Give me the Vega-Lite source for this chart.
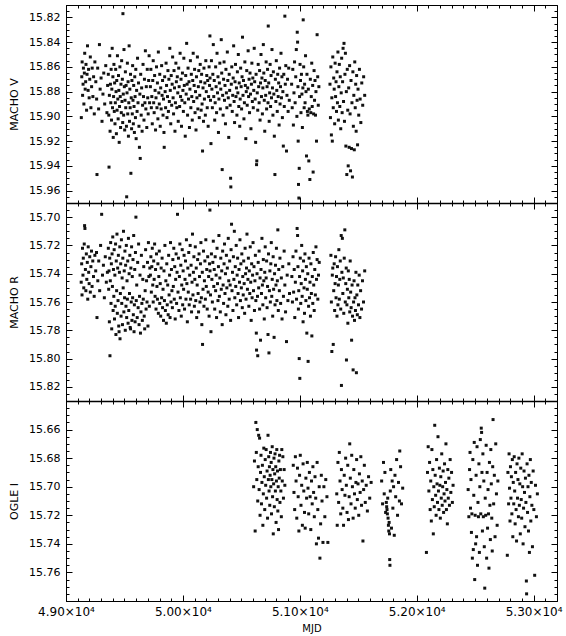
{
"$schema": "https://vega.github.io/schema/vega-lite/v6.json",
"width": 491,
"height": 596,
"autosize": {"type": "none"},
"padding": {"left": 66, "top": 5, "right": 9, "bottom": 35},
"config": {
  "view": {"stroke": "#000", "strokeWidth": 1},
  "axis": {"grid": false, "domain": false, "labelFont": "DejaVu Sans", "labelFontSize": 11, "labelColor": "#000", "titleFont": "DejaVu Sans", "titleFontSize": 11, "titleFontWeight": "normal", "titleColor": "#000", "tickColor": "#000", "tickWidth": 1, "domainColor": "#000", "domainWidth": 1.5, "labelFlush": false, "labelOverlap": false, "labelBound": false}
},
"datasets": {
"V": [
{"d":49131,"m":15.901},{"d":49135,"m":15.868},{"d":49138,"m":15.856},{"d":49142,"m":15.883},{"d":49146,"m":15.874},{"d":49149,"m":15.861},{"d":49153,"m":15.890},{"d":49157,"m":15.865},{"d":49160,"m":15.849},{"d":49164,"m":15.878},{"d":49168,"m":15.872},{"d":49171,"m":15.858},{"d":49176,"m":15.895},{"d":49180,"m":15.866},{"d":49184,"m":15.843},{"d":49189,"m":15.879},{"d":49193,"m":15.862},{"d":49198,"m":15.885},{"d":49203,"m":15.870},{"d":49208,"m":15.852},{"d":49213,"m":15.893},{"d":49219,"m":15.876},{"d":49224,"m":15.861},{"d":49230,"m":15.884},{"d":49236,"m":15.868},{"d":49242,"m":15.898},{"d":49247,"m":15.856},
{"d":49255,"m":15.872},{"d":49262,"m":15.886},{"d":49265,"m":15.947},{"d":49271,"m":15.861},{"d":49279,"m":15.894},{"d":49286,"m":15.842},{"d":49292,"m":15.878},{"d":49300,"m":15.869},{"d":49308,"m":15.904},{"d":49316,"m":15.882},{"d":49323,"m":15.865},{"d":49331,"m":15.890},{"d":49340,"m":15.859},{"d":49350,"m":15.897},{"d":49356,"m":15.875},
{"d":49362,"m":15.866},{"d":49366,"m":15.899},{"d":49368,"m":15.941},{"d":49371,"m":15.883},{"d":49374,"m":15.851},{"d":49377,"m":15.912},{"d":49380,"m":15.874},{"d":49383,"m":15.889},{"d":49386,"m":15.862},{"d":49389,"m":15.903},{"d":49392,"m":15.878},{"d":49395,"m":15.845},{"d":49398,"m":15.893},{"d":49401,"m":15.868},{"d":49404,"m":15.917},{"d":49407,"m":15.884},{"d":49410,"m":15.858},{"d":49413,"m":15.896},{"d":49416,"m":15.873},{"d":49419,"m":15.906},{"d":49422,"m":15.889},{"d":49425,"m":15.862},{"d":49428,"m":15.880},{"d":49431,"m":15.914},{"d":49434,"m":15.871},{"d":49437,"m":15.895},{"d":49440,"m":15.851},{"d":49443,"m":15.886},{"d":49446,"m":15.902},{"d":49449,"m":15.867},{"d":49452,"m":15.879},{"d":49455,"m":15.921},{"d":49458,"m":15.892},{"d":49461,"m":15.860},{"d":49464,"m":15.884},{"d":49467,"m":15.909},{"d":49470,"m":15.874},{"d":49473,"m":15.897},{"d":49476,"m":15.855},{"d":49479,"m":15.888},{"d":49482,"m":15.870},{"d":49485,"m":15.905},{"d":49487,"m":15.817},{"d":49490,"m":15.882},{"d":49493,"m":15.899},{"d":49496,"m":15.846},{"d":49499,"m":15.876},{"d":49502,"m":15.911},{"d":49505,"m":15.887},{"d":49508,"m":15.864},{"d":49511,"m":15.893},{"d":49514,"m":15.875},{"d":49517,"m":15.908},{"d":49519,"m":15.965},{"d":49522,"m":15.881},{"d":49525,"m":15.857},{"d":49528,"m":15.898},{"d":49531,"m":15.872},{"d":49534,"m":15.916},{"d":49537,"m":15.889},{"d":49540,"m":15.843},{"d":49543,"m":15.904},{"d":49546,"m":15.878},{"d":49549,"m":15.893},{"d":49552,"m":15.866},{"d":49555,"m":15.946},{"d":49558,"m":15.885},{"d":49561,"m":15.910},{"d":49564,"m":15.871},{"d":49567,"m":15.898},{"d":49570,"m":15.859},{"d":49573,"m":15.887},{"d":49576,"m":15.906},{"d":49579,"m":15.875},{"d":49582,"m":15.892},{"d":49585,"m":15.913},{"d":49588,"m":15.868},{"d":49591,"m":15.884},{"d":49594,"m":15.901},{"d":49597,"m":15.862},{"d":49600,"m":15.918},{"d":49604,"m":15.879},{"d":49608,"m":15.896},{"d":49612,"m":15.853},{"d":49616,"m":15.889},{"d":49620,"m":15.873},{"d":49624,"m":15.908},{"d":49628,"m":15.925},{"d":49632,"m":15.882},{"d":49635,"m":15.934},{"d":49639,"m":15.866},{"d":49643,"m":15.899},{"d":49647,"m":15.877},{"d":49651,"m":15.912},{"d":49655,"m":15.891},{"d":49659,"m":15.858},{"d":49663,"m":15.884},{"d":49667,"m":15.903},{"d":49671,"m":15.870},{"d":49675,"m":15.889},{"d":49679,"m":15.847},{"d":49683,"m":15.894},{"d":49687,"m":15.876},{"d":49691,"m":15.909},{"d":49695,"m":15.862},{"d":49699,"m":15.885},{"d":49703,"m":15.898},{"d":49707,"m":15.871},{"d":49711,"m":15.851},{"d":49715,"m":15.889},
{"d":49722,"m":15.876},{"d":49726,"m":15.862},{"d":49730,"m":15.893},{"d":49734,"m":15.884},{"d":49738,"m":15.906},{"d":49742,"m":15.871},{"d":49746,"m":15.855},{"d":49750,"m":15.889},{"d":49754,"m":15.897},{"d":49758,"m":15.867},{"d":49762,"m":15.879},{"d":49766,"m":15.911},{"d":49770,"m":15.885},{"d":49774,"m":15.860},{"d":49778,"m":15.893},{"d":49782,"m":15.873},{"d":49786,"m":15.902},{"d":49790,"m":15.848},{"d":49794,"m":15.881},{"d":49798,"m":15.890},{"d":49802,"m":15.866},{"d":49806,"m":15.908},{"d":49810,"m":15.877},{"d":49814,"m":15.894},{"d":49818,"m":15.859},{"d":49822,"m":15.883},{"d":49826,"m":15.871},{"d":49830,"m":15.899},{"d":49834,"m":15.886},{"d":49838,"m":15.913},{"d":49840,"m":15.925},{"d":49844,"m":15.868},{"d":49848,"m":15.880},{"d":49852,"m":15.893},{"d":49856,"m":15.857},{"d":49860,"m":15.875},{"d":49864,"m":15.901},{"d":49868,"m":15.884},{"d":49872,"m":15.863},{"d":49876,"m":15.896},{"d":49880,"m":15.870},{"d":49884,"m":15.888},{"d":49888,"m":15.845},{"d":49892,"m":15.879},{"d":49896,"m":15.906},{"d":49900,"m":15.867},{"d":49904,"m":15.891},{"d":49908,"m":15.874},{"d":49912,"m":15.852},{"d":49916,"m":15.885},{"d":49920,"m":15.898},{"d":49924,"m":15.863},{"d":49928,"m":15.877},{"d":49932,"m":15.912},{"d":49936,"m":15.889},{"d":49940,"m":15.857},{"d":49944,"m":15.872},{"d":49948,"m":15.893},{"d":49952,"m":15.868},{"d":49956,"m":15.881},{"d":49960,"m":15.904},{"d":49964,"m":15.861},{"d":49968,"m":15.876},{"d":49972,"m":15.892},{"d":49976,"m":15.849},{"d":49980,"m":15.884},{"d":49984,"m":15.870},{"d":49988,"m":15.908},{"d":49992,"m":15.887},{"d":49996,"m":15.865},{"d":50000,"m":15.879},{"d":50004,"m":15.896},{"d":50008,"m":15.853},{"d":50012,"m":15.875},{"d":50016,"m":15.889},{"d":50020,"m":15.916},{"d":50024,"m":15.867},{"d":50028,"m":15.882},{"d":50032,"m":15.841},{"d":50036,"m":15.874},{"d":50040,"m":15.899},{"d":50044,"m":15.861},{"d":50048,"m":15.886},{"d":50052,"m":15.872},{"d":50056,"m":15.909},{"d":50060,"m":15.878},{"d":50064,"m":15.855},{"d":50068,"m":15.893},{"d":50072,"m":15.866},{"d":50076,"m":15.884},{"d":50080,"m":15.903},{"d":50084,"m":15.871},{"d":50088,"m":15.849},{"d":50092,"m":15.888},{"d":50096,"m":15.875},{"d":50100,"m":15.862},{"d":50104,"m":15.897},{"d":50108,"m":15.880},{"d":50112,"m":15.911},{"d":50116,"m":15.868},{"d":50120,"m":15.885},{"d":50124,"m":15.852},{"d":50128,"m":15.894},{"d":50132,"m":15.876},{"d":50136,"m":15.863},{"d":50140,"m":15.901},{"d":50144,"m":15.883},{"d":50148,"m":15.858},{"d":50152,"m":15.872},{"d":50156,"m":15.895},{"d":50160,"m":15.866},{"d":50164,"m":15.890},{"d":50168,"m":15.928},{"d":50172,"m":15.877},{"d":50176,"m":15.904},{"d":50180,"m":15.861},{"d":50184,"m":15.886},{"d":50188,"m":15.873},{"d":50192,"m":15.899},{"d":50196,"m":15.855},{"d":50200,"m":15.880},{"d":50204,"m":15.867},{"d":50208,"m":15.893},{"d":50212,"m":15.871},{"d":50216,"m":15.908},{"d":50220,"m":15.884},{"d":50224,"m":15.860},{"d":50228,"m":15.875},{"d":50231,"m":15.835},
{"d":50232,"m":15.869},{"d":50236,"m":15.887},{"d":50240,"m":15.922},{"d":50244,"m":15.855},{"d":50248,"m":15.878},{"d":50252,"m":15.893},{"d":50256,"m":15.866},{"d":50260,"m":15.842},{"d":50264,"m":15.884},{"d":50268,"m":15.871},{"d":50272,"m":15.903},{"d":50276,"m":15.889},{"d":50280,"m":15.860},{"d":50284,"m":15.876},{"d":50288,"m":15.897},{"d":50292,"m":15.849},{"d":50296,"m":15.881},{"d":50300,"m":15.868},{"d":50304,"m":15.913},{"d":50308,"m":15.886},{"d":50312,"m":15.873},{"d":50316,"m":15.857},{"d":50320,"m":15.894},{"d":50324,"m":15.878},{"d":50328,"m":15.838},{"d":50332,"m":15.865},{"d":50336,"m":15.943},{"d":50340,"m":15.883},{"d":50344,"m":15.899},{"d":50348,"m":15.870},{"d":50352,"m":15.856},{"d":50356,"m":15.887},{"d":50360,"m":15.875},{"d":50364,"m":15.906},{"d":50368,"m":15.862},{"d":50372,"m":15.881},{"d":50376,"m":15.893},{"d":50380,"m":15.848},{"d":50384,"m":15.871},{"d":50388,"m":15.885},{"d":50392,"m":15.917},{"d":50396,"m":15.866},{"d":50400,"m":15.879},{"d":50404,"m":15.891},{"d":50408,"m":15.950},{"d":50410,"m":15.957},{"d":50414,"m":15.874},{"d":50418,"m":15.860},{"d":50422,"m":15.896},{"d":50426,"m":15.883},{"d":50430,"m":15.869},{"d":50434,"m":15.843},{"d":50438,"m":15.888},{"d":50442,"m":15.905},{"d":50446,"m":15.872},{"d":50450,"m":15.858},{"d":50454,"m":15.884},{"d":50458,"m":15.877},{"d":50462,"m":15.899},{"d":50466,"m":15.864},{"d":50470,"m":15.881},{"d":50474,"m":15.850},{"d":50478,"m":15.892},{"d":50482,"m":15.873},{"d":50486,"m":15.908},{"d":50490,"m":15.886},{"d":50494,"m":15.861},{"d":50498,"m":15.876},{"d":50502,"m":15.894},{"d":50506,"m":15.868},{"d":50510,"m":15.836},{"d":50514,"m":15.883},{"d":50518,"m":15.871},{"d":50522,"m":15.902},{"d":50526,"m":15.889},{"d":50530,"m":15.856},{"d":50534,"m":15.875},{"d":50538,"m":15.918},{"d":50542,"m":15.880},{"d":50546,"m":15.863},{"d":50550,"m":15.891},{"d":50554,"m":15.877},{"d":50558,"m":15.847},{"d":50562,"m":15.884},{"d":50566,"m":15.870},{"d":50570,"m":15.897},{"d":50574,"m":15.865},{"d":50578,"m":15.882},{"d":50582,"m":15.910},{"d":50586,"m":15.874},{"d":50590,"m":15.857},{"d":50594,"m":15.888},{"d":50598,"m":15.869},{"d":50602,"m":15.893},{"d":50606,"m":15.879},{"d":50610,"m":15.845},{"d":50614,"m":15.872},{"d":50618,"m":15.886},{"d":50622,"m":15.921},{"d":50626,"m":15.866},{"d":50630,"m":15.939},{"d":50632,"m":15.936},{"d":50636,"m":15.881},{"d":50640,"m":15.895},{"d":50644,"m":15.858},{"d":50648,"m":15.876},{"d":50652,"m":15.889},{"d":50656,"m":15.863},{"d":50660,"m":15.903},{"d":50664,"m":15.873},{"d":50668,"m":15.850},{"d":50672,"m":15.884},{"d":50676,"m":15.869},{"d":50680,"m":15.898},{"d":50684,"m":15.877},{"d":50688,"m":15.842},{"d":50692,"m":15.865},{"d":50696,"m":15.887},{"d":50700,"m":15.912},{"d":50704,"m":15.871},{"d":50708,"m":15.883},{"d":50712,"m":15.856},{"d":50716,"m":15.894},{"d":50720,"m":15.876},{"d":50724,"m":15.862},{"d":50728,"m":15.889},{"d":50730,"m":15.827},{"d":50734,"m":15.873},{"d":50738,"m":15.904},{"d":50742,"m":15.881},{"d":50746,"m":15.858},{"d":50750,"m":15.892},{"d":50754,"m":15.867},{"d":50758,"m":15.885},{"d":50762,"m":15.846},{"d":50766,"m":15.877},{"d":50770,"m":15.899},{"d":50774,"m":15.864},{"d":50778,"m":15.882},{"d":50782,"m":15.916},{"d":50787,"m":15.947},{"d":50791,"m":15.870},{"d":50795,"m":15.888},{"d":50799,"m":15.855},{"d":50803,"m":15.879},{"d":50807,"m":15.896},{"d":50811,"m":15.866},{"d":50815,"m":15.884},{"d":50819,"m":15.873},{"d":50823,"m":15.907},{"d":50827,"m":15.861},{"d":50831,"m":15.890},{"d":50835,"m":15.876},{"d":50839,"m":15.849},{"d":50843,"m":15.885},{"d":50847,"m":15.868},{"d":50851,"m":15.901},{"d":50855,"m":15.880},{"d":50859,"m":15.924},{"d":50863,"m":15.866},{"d":50867,"m":15.892},{"d":50872,"m":15.819},{"d":50876,"m":15.874},{"d":50880,"m":15.859},{"d":50886,"m":15.928},{"d":50890,"m":15.883},{"d":50895,"m":15.870},{"d":50900,"m":15.896},{"d":50905,"m":15.861},{"d":50910,"m":15.887},
{"d":50930,"m":15.874},{"d":50935,"m":15.893},{"d":50940,"m":15.862},{"d":50945,"m":15.907},{"d":50950,"m":15.881},{"d":50955,"m":15.856},{"d":50960,"m":15.889},{"d":50965,"m":15.868},{"d":50970,"m":15.846},{"d":50975,"m":15.900},{"d":50978,"m":15.832},{"d":50981,"m":15.840},{"d":50984,"m":15.876},{"d":50986,"m":15.920},{"d":50989,"m":15.955},{"d":50992,"m":15.966},{"d":50995,"m":15.942},{"d":50998,"m":15.884},{"d":51002,"m":15.858},{"d":51006,"m":15.871},{"d":51010,"m":15.897},{"d":51014,"m":15.866},{"d":51018,"m":15.882},{"d":51022,"m":15.909},{"d":51026,"m":15.877},{"d":51029,"m":15.822},{"d":51033,"m":15.860},{"d":51037,"m":15.893},{"d":51041,"m":15.874},{"d":51045,"m":15.889},{"d":51049,"m":15.851},{"d":51053,"m":15.880},{"d":51057,"m":15.932},{"d":51061,"m":15.866},{"d":51065,"m":15.896},{"d":51069,"m":15.899},{"d":51073,"m":15.878},{"d":51077,"m":15.936},{"d":51081,"m":15.894},{"d":51086,"m":15.951},{"d":51090,"m":15.870},{"d":51094,"m":15.897},{"d":51098,"m":15.884},{"d":51102,"m":15.857},{"d":51106,"m":15.892},{"d":51110,"m":15.875},{"d":51114,"m":15.945},{"d":51118,"m":15.898},{"d":51122,"m":15.863},{"d":51126,"m":15.887},{"d":51130,"m":15.871},{"d":51134,"m":15.899},{"d":51138,"m":15.880},{"d":51143,"m":15.920},{"d":51148,"m":15.834},{"d":51153,"m":15.868},{"d":51158,"m":15.891},{"d":51163,"m":15.876},
{"d":51258,"m":15.874},{"d":51262,"m":15.901},{"d":51266,"m":15.860},{"d":51270,"m":15.915},{"d":51274,"m":15.885},{"d":51278,"m":15.920},{"d":51282,"m":15.852},{"d":51286,"m":15.893},{"d":51290,"m":15.869},{"d":51294,"m":15.878},{"d":51298,"m":15.906},{"d":51302,"m":15.857},{"d":51306,"m":15.884},{"d":51310,"m":15.872},{"d":51314,"m":15.896},{"d":51318,"m":15.864},{"d":51322,"m":15.889},{"d":51326,"m":15.848},{"d":51330,"m":15.903},{"d":51334,"m":15.876},{"d":51338,"m":15.858},{"d":51342,"m":15.892},{"d":51346,"m":15.868},{"d":51350,"m":15.910},{"d":51354,"m":15.881},{"d":51358,"m":15.853},{"d":51362,"m":15.897},{"d":51366,"m":15.872},{"d":51370,"m":15.845},{"d":51374,"m":15.888},{"d":51378,"m":15.841},{"d":51382,"m":15.904},{"d":51386,"m":15.866},{"d":51390,"m":15.849},{"d":51394,"m":15.924},{"d":51398,"m":15.880},{"d":51402,"m":15.947},{"d":51406,"m":15.862},{"d":51410,"m":15.895},{"d":51414,"m":15.940},{"d":51418,"m":15.877},{"d":51422,"m":15.925},{"d":51426,"m":15.859},{"d":51430,"m":15.898},{"d":51434,"m":15.944},{"d":51438,"m":15.871},{"d":51442,"m":15.926},{"d":51446,"m":15.889},{"d":51450,"m":15.949},{"d":51454,"m":15.864},{"d":51458,"m":15.908},{"d":51462,"m":15.883},{"d":51466,"m":15.927},{"d":51470,"m":15.856},{"d":51474,"m":15.893},{"d":51478,"m":15.874},{"d":51482,"m":15.912},{"d":51486,"m":15.867},{"d":51490,"m":15.887},{"d":51494,"m":15.923},{"d":51498,"m":15.878},{"d":51504,"m":15.899},{"d":51510,"m":15.862},{"d":51516,"m":15.886},{"d":51522,"m":15.905},{"d":51530,"m":15.873},{"d":51538,"m":15.891},{"d":51546,"m":15.868},{"d":51555,"m":15.883}
],
"R": [
{"d":49130,"m":15.746},{"d":49134,"m":15.733},{"d":49137,"m":15.755},{"d":49141,"m":15.722},{"d":49145,"m":15.741},{"d":49148,"m":15.729},{"d":49152,"m":15.750},{"d":49156,"m":15.719},{"d":49159,"m":15.706},{"d":49162,"m":15.708},{"d":49166,"m":15.737},{"d":49170,"m":15.752},{"d":49174,"m":15.726},{"d":49178,"m":15.744},{"d":49182,"m":15.732},{"d":49186,"m":15.758},{"d":49190,"m":15.721},{"d":49194,"m":15.739},{"d":49198,"m":15.747},{"d":49203,"m":15.728},{"d":49208,"m":15.753},{"d":49213,"m":15.735},{"d":49218,"m":15.724},{"d":49223,"m":15.749},{"d":49229,"m":15.731},{"d":49235,"m":15.742},{"d":49241,"m":15.756},{"d":49247,"m":15.727},
{"d":49254,"m":15.738},{"d":49261,"m":15.725},{"d":49265,"m":15.771},{"d":49272,"m":15.745},{"d":49280,"m":15.731},{"d":49288,"m":15.752},{"d":49296,"m":15.720},{"d":49305,"m":15.698},{"d":49312,"m":15.741},{"d":49320,"m":15.734},{"d":49328,"m":15.757},{"d":49336,"m":15.728},{"d":49345,"m":15.746},{"d":49354,"m":15.739},
{"d":49362,"m":15.722},{"d":49365,"m":15.751},{"d":49368,"m":15.738},{"d":49371,"m":15.774},{"d":49374,"m":15.729},{"d":49376,"m":15.798},{"d":49379,"m":15.745},{"d":49382,"m":15.718},{"d":49385,"m":15.761},{"d":49388,"m":15.733},{"d":49391,"m":15.779},{"d":49394,"m":15.726},{"d":49397,"m":15.749},{"d":49400,"m":15.714},{"d":49403,"m":15.766},{"d":49406,"m":15.737},{"d":49409,"m":15.756},{"d":49412,"m":15.723},{"d":49415,"m":15.772},{"d":49418,"m":15.741},{"d":49421,"m":15.763},{"d":49424,"m":15.719},{"d":49427,"m":15.783},{"d":49430,"m":15.731},{"d":49433,"m":15.752},{"d":49436,"m":15.712},{"d":49439,"m":15.768},{"d":49442,"m":15.736},{"d":49445,"m":15.759},{"d":49448,"m":15.727},{"d":49451,"m":15.777},{"d":49454,"m":15.781},{"d":49457,"m":15.739},{"d":49460,"m":15.721},{"d":49462,"m":15.786},{"d":49465,"m":15.754},{"d":49468,"m":15.733},{"d":49471,"m":15.770},{"d":49474,"m":15.716},{"d":49477,"m":15.761},{"d":49480,"m":15.743},{"d":49483,"m":15.776},{"d":49486,"m":15.729},{"d":49489,"m":15.750},{"d":49492,"m":15.710},{"d":49495,"m":15.767},{"d":49498,"m":15.738},{"d":49501,"m":15.757},{"d":49504,"m":15.724},{"d":49507,"m":15.780},{"d":49510,"m":15.734},{"d":49513,"m":15.763},{"d":49516,"m":15.720},{"d":49519,"m":15.771},{"d":49522,"m":15.745},{"d":49525,"m":15.758},{"d":49528,"m":15.731},{"d":49531,"m":15.775},{"d":49534,"m":15.715},{"d":49537,"m":15.766},{"d":49540,"m":15.740},{"d":49543,"m":15.754},{"d":49546,"m":15.727},{"d":49549,"m":15.778},{"d":49552,"m":15.779},{"d":49555,"m":15.736},{"d":49558,"m":15.760},{"d":49561,"m":15.721},{"d":49564,"m":15.773},{"d":49567,"m":15.742},{"d":49570,"m":15.757},{"d":49573,"m":15.730},{"d":49576,"m":15.769},{"d":49579,"m":15.713},{"d":49582,"m":15.781},{"d":49585,"m":15.762},{"d":49588,"m":15.737},{"d":49591,"m":15.774},{"d":49594,"m":15.725},{"d":49598,"m":15.700},{"d":49601,"m":15.759},{"d":49605,"m":15.748},{"d":49609,"m":15.771},{"d":49613,"m":15.732},{"d":49617,"m":15.764},{"d":49621,"m":15.719},{"d":49625,"m":15.776},{"d":49629,"m":15.756},{"d":49633,"m":15.741},{"d":49637,"m":15.782},{"d":49641,"m":15.767},{"d":49645,"m":15.727},{"d":49649,"m":15.761},{"d":49653,"m":15.773},{"d":49657,"m":15.744},{"d":49661,"m":15.758},{"d":49665,"m":15.735},{"d":49669,"m":15.770},{"d":49673,"m":15.779},{"d":49677,"m":15.752},{"d":49681,"m":15.723},{"d":49685,"m":15.765},{"d":49689,"m":15.745},{"d":49693,"m":15.760},{"d":49697,"m":15.732},{"d":49701,"m":15.777},{"d":49705,"m":15.718},{"d":49709,"m":15.742},{"d":49713,"m":15.763},{"d":49717,"m":15.736},
{"d":49722,"m":15.741},{"d":49726,"m":15.728},{"d":49730,"m":15.753},{"d":49734,"m":15.735},{"d":49738,"m":15.722},{"d":49742,"m":15.748},{"d":49746,"m":15.760},{"d":49750,"m":15.731},{"d":49754,"m":15.744},{"d":49758,"m":15.719},{"d":49762,"m":15.756},{"d":49766,"m":15.737},{"d":49770,"m":15.765},{"d":49774,"m":15.726},{"d":49778,"m":15.749},{"d":49782,"m":15.758},{"d":49786,"m":15.733},{"d":49790,"m":15.768},{"d":49794,"m":15.742},{"d":49798,"m":15.724},{"d":49802,"m":15.761},{"d":49806,"m":15.747},{"d":49810,"m":15.770},{"d":49814,"m":15.736},{"d":49818,"m":15.757},{"d":49822,"m":15.729},{"d":49826,"m":15.764},{"d":49830,"m":15.751},{"d":49834,"m":15.773},{"d":49838,"m":15.738},{"d":49842,"m":15.759},{"d":49846,"m":15.720},{"d":49850,"m":15.766},{"d":49854,"m":15.745},{"d":49858,"m":15.775},{"d":49862,"m":15.733},{"d":49866,"m":15.762},{"d":49870,"m":15.748},{"d":49874,"m":15.769},{"d":49878,"m":15.727},{"d":49882,"m":15.755},{"d":49886,"m":15.741},{"d":49890,"m":15.771},{"d":49894,"m":15.718},{"d":49898,"m":15.760},{"d":49902,"m":15.737},{"d":49906,"m":15.752},{"d":49910,"m":15.764},{"d":49914,"m":15.730},{"d":49918,"m":15.749},{"d":49922,"m":15.722},{"d":49926,"m":15.758},{"d":49930,"m":15.735},{"d":49934,"m":15.772},{"d":49938,"m":15.744},{"d":49942,"m":15.726},{"d":49946,"m":15.761},{"d":49950,"m":15.739},{"d":49954,"m":15.698},{"d":49958,"m":15.753},{"d":49962,"m":15.729},{"d":49966,"m":15.766},{"d":49970,"m":15.742},{"d":49974,"m":15.719},{"d":49978,"m":15.757},{"d":49982,"m":15.734},{"d":49986,"m":15.770},{"d":49990,"m":15.748},{"d":49994,"m":15.723},{"d":49998,"m":15.762},{"d":50002,"m":15.738},{"d":50006,"m":15.751},{"d":50010,"m":15.727},{"d":50014,"m":15.765},{"d":50018,"m":15.744},{"d":50022,"m":15.731},{"d":50026,"m":15.758},{"d":50030,"m":15.716},{"d":50034,"m":15.747},{"d":50038,"m":15.774},{"d":50042,"m":15.736},{"d":50046,"m":15.753},{"d":50050,"m":15.725},{"d":50054,"m":15.762},{"d":50058,"m":15.741},{"d":50062,"m":15.720},{"d":50066,"m":15.758},{"d":50070,"m":15.734},{"d":50074,"m":15.767},{"d":50078,"m":15.746},{"d":50082,"m":15.712},{"d":50086,"m":15.755},{"d":50090,"m":15.739},{"d":50094,"m":15.728},{"d":50098,"m":15.763},{"d":50102,"m":15.744},{"d":50106,"m":15.721},{"d":50110,"m":15.759},{"d":50114,"m":15.736},{"d":50118,"m":15.771},{"d":50122,"m":15.748},{"d":50126,"m":15.730},{"d":50130,"m":15.754},{"d":50134,"m":15.767},{"d":50138,"m":15.726},{"d":50142,"m":15.742},{"d":50146,"m":15.760},{"d":50150,"m":15.733},{"d":50154,"m":15.718},{"d":50158,"m":15.757},{"d":50162,"m":15.776},{"d":50166,"m":15.739},{"d":50168,"m":15.790},{"d":50172,"m":15.751},{"d":50176,"m":15.724},{"d":50180,"m":15.763},{"d":50184,"m":15.745},{"d":50188,"m":15.731},{"d":50192,"m":15.758},{"d":50196,"m":15.716},{"d":50200,"m":15.749},{"d":50204,"m":15.737},{"d":50208,"m":15.765},{"d":50212,"m":15.728},{"d":50216,"m":15.753},{"d":50220,"m":15.742},{"d":50224,"m":15.770},{"d":50228,"m":15.733},{"d":50231,"m":15.695},
{"d":50232,"m":15.738},{"d":50236,"m":15.755},{"d":50240,"m":15.781},{"d":50244,"m":15.726},{"d":50248,"m":15.744},{"d":50252,"m":15.760},{"d":50256,"m":15.732},{"d":50260,"m":15.717},{"d":50264,"m":15.749},{"d":50268,"m":15.737},{"d":50272,"m":15.765},{"d":50276,"m":15.728},{"d":50280,"m":15.752},{"d":50284,"m":15.741},{"d":50288,"m":15.771},{"d":50292,"m":15.722},{"d":50296,"m":15.747},{"d":50300,"m":15.759},{"d":50304,"m":15.735},{"d":50308,"m":15.713},{"d":50312,"m":15.756},{"d":50316,"m":15.743},{"d":50320,"m":15.767},{"d":50324,"m":15.729},{"d":50328,"m":15.751},{"d":50332,"m":15.738},{"d":50336,"m":15.776},{"d":50340,"m":15.724},{"d":50344,"m":15.748},{"d":50348,"m":15.761},{"d":50352,"m":15.733},{"d":50356,"m":15.719},{"d":50360,"m":15.754},{"d":50364,"m":15.740},{"d":50368,"m":15.769},{"d":50372,"m":15.727},{"d":50376,"m":15.750},{"d":50380,"m":15.736},{"d":50384,"m":15.763},{"d":50388,"m":15.715},{"d":50392,"m":15.745},{"d":50396,"m":15.758},{"d":50400,"m":15.731},{"d":50404,"m":15.748},{"d":50408,"m":15.773},{"d":50412,"m":15.723},{"d":50416,"m":15.705},{"d":50420,"m":15.752},{"d":50424,"m":15.739},{"d":50428,"m":15.766},{"d":50432,"m":15.728},{"d":50436,"m":15.744},{"d":50440,"m":15.710},{"d":50444,"m":15.757},{"d":50448,"m":15.735},{"d":50452,"m":15.749},{"d":50456,"m":15.720},{"d":50460,"m":15.762},{"d":50464,"m":15.741},{"d":50468,"m":15.729},{"d":50472,"m":15.754},{"d":50476,"m":15.771},{"d":50480,"m":15.737},{"d":50484,"m":15.746},{"d":50488,"m":15.716},{"d":50492,"m":15.759},{"d":50496,"m":15.733},{"d":50500,"m":15.750},{"d":50504,"m":15.726},{"d":50508,"m":15.764},{"d":50512,"m":15.742},{"d":50516,"m":15.755},{"d":50520,"m":15.731},{"d":50524,"m":15.747},{"d":50528,"m":15.768},{"d":50532,"m":15.722},{"d":50536,"m":15.740},{"d":50540,"m":15.758},{"d":50544,"m":15.736},{"d":50548,"m":15.712},{"d":50552,"m":15.751},{"d":50556,"m":15.744},{"d":50560,"m":15.729},{"d":50564,"m":15.763},{"d":50568,"m":15.738},{"d":50572,"m":15.754},{"d":50576,"m":15.721},{"d":50580,"m":15.746},{"d":50584,"m":15.773},{"d":50588,"m":15.733},{"d":50592,"m":15.757},{"d":50596,"m":15.741},{"d":50600,"m":15.718},{"d":50604,"m":15.752},{"d":50608,"m":15.735},{"d":50612,"m":15.766},{"d":50616,"m":15.745},{"d":50620,"m":15.727},{"d":50624,"m":15.759},{"d":50628,"m":15.782},{"d":50630,"m":15.794},{"d":50634,"m":15.740},{"d":50638,"m":15.756},{"d":50640,"m":15.798},{"d":50644,"m":15.732},{"d":50648,"m":15.750},{"d":50652,"m":15.724},{"d":50656,"m":15.765},{"d":50660,"m":15.743},{"d":50664,"m":15.787},{"d":50668,"m":15.737},{"d":50672,"m":15.754},{"d":50676,"m":15.715},{"d":50680,"m":15.748},{"d":50684,"m":15.762},{"d":50688,"m":15.730},{"d":50692,"m":15.745},{"d":50696,"m":15.772},{"d":50700,"m":15.739},{"d":50704,"m":15.721},{"d":50708,"m":15.757},{"d":50712,"m":15.743},{"d":50716,"m":15.731},{"d":50720,"m":15.764},{"d":50724,"m":15.749},{"d":50728,"m":15.783},{"d":50732,"m":15.726},{"d":50736,"m":15.796},{"d":50740,"m":15.752},{"d":50744,"m":15.738},{"d":50748,"m":15.760},{"d":50752,"m":15.733},{"d":50756,"m":15.718},{"d":50760,"m":15.756},{"d":50764,"m":15.744},{"d":50768,"m":15.770},{"d":50772,"m":15.728},{"d":50776,"m":15.751},{"d":50780,"m":15.785},{"d":50784,"m":15.740},{"d":50788,"m":15.762},{"d":50792,"m":15.734},{"d":50796,"m":15.748},{"d":50800,"m":15.722},{"d":50804,"m":15.759},{"d":50808,"m":15.745},{"d":50812,"m":15.709},{"d":50816,"m":15.766},{"d":50820,"m":15.737},{"d":50825,"m":15.752},{"d":50830,"m":15.729},{"d":50836,"m":15.761},{"d":50842,"m":15.743},{"d":50848,"m":15.772},{"d":50854,"m":15.735},{"d":50860,"m":15.756},{"d":50866,"m":15.724},{"d":50872,"m":15.748},{"d":50878,"m":15.767},{"d":50886,"m":15.788},{"d":50892,"m":15.741},{"d":50898,"m":15.759},{"d":50906,"m":15.733},{"d":50912,"m":15.754},
{"d":50932,"m":15.742},{"d":50937,"m":15.760},{"d":50942,"m":15.728},{"d":50947,"m":15.753},{"d":50952,"m":15.737},{"d":50957,"m":15.771},{"d":50962,"m":15.746},{"d":50967,"m":15.724},{"d":50972,"m":15.758},{"d":50977,"m":15.708},{"d":50981,"m":15.713},{"d":50984,"m":15.735},{"d":50988,"m":15.765},{"d":50991,"m":15.752},{"d":50995,"m":15.800},{"d":50998,"m":15.742},{"d":51000,"m":15.814},{"d":51004,"m":15.729},{"d":51008,"m":15.761},{"d":51012,"m":15.747},{"d":51016,"m":15.720},{"d":51020,"m":15.756},{"d":51024,"m":15.738},{"d":51028,"m":15.774},{"d":51032,"m":15.731},{"d":51036,"m":15.750},{"d":51040,"m":15.768},{"d":51044,"m":15.726},{"d":51048,"m":15.744},{"d":51052,"m":15.759},{"d":51056,"m":15.735},{"d":51060,"m":15.782},{"d":51064,"m":15.751},{"d":51068,"m":15.740},{"d":51071,"m":15.802},{"d":51075,"m":15.763},{"d":51079,"m":15.729},{"d":51083,"m":15.757},{"d":51087,"m":15.746},{"d":51091,"m":15.770},{"d":51095,"m":15.733},{"d":51099,"m":15.754},{"d":51103,"m":15.784},{"d":51107,"m":15.742},{"d":51111,"m":15.761},{"d":51115,"m":15.725},{"d":51119,"m":15.748},{"d":51123,"m":15.766},{"d":51128,"m":15.737},{"d":51133,"m":15.755},{"d":51138,"m":15.721},{"d":51143,"m":15.744},{"d":51148,"m":15.730},{"d":51154,"m":15.758},{"d":51160,"m":15.741},{"d":51166,"m":15.732},
{"d":51266,"m":15.727},{"d":51270,"m":15.760},{"d":51274,"m":15.795},{"d":51278,"m":15.741},{"d":51282,"m":15.736},{"d":51286,"m":15.790},{"d":51290,"m":15.752},{"d":51294,"m":15.733},{"d":51298,"m":15.766},{"d":51302,"m":15.747},{"d":51306,"m":15.728},{"d":51310,"m":15.757},{"d":51314,"m":15.742},{"d":51318,"m":15.770},{"d":51322,"m":15.735},{"d":51326,"m":15.762},{"d":51330,"m":15.748},{"d":51334,"m":15.723},{"d":51338,"m":15.758},{"d":51342,"m":15.744},{"d":51346,"m":15.731},{"d":51350,"m":15.765},{"d":51354,"m":15.713},{"d":51356,"m":15.819},{"d":51360,"m":15.739},{"d":51364,"m":15.715},{"d":51368,"m":15.754},{"d":51372,"m":15.743},{"d":51376,"m":15.768},{"d":51380,"m":15.729},{"d":51385,"m":15.709},{"d":51389,"m":15.760},{"d":51393,"m":15.747},{"d":51397,"m":15.736},{"d":51399,"m":15.801},{"d":51403,"m":15.762},{"d":51407,"m":15.751},{"d":51411,"m":15.775},{"d":51415,"m":15.738},{"d":51419,"m":15.757},{"d":51423,"m":15.744},{"d":51427,"m":15.767},{"d":51431,"m":15.731},{"d":51435,"m":15.753},{"d":51439,"m":15.764},{"d":51443,"m":15.787},{"d":51447,"m":15.748},{"d":51451,"m":15.770},{"d":51456,"m":15.808},{"d":51460,"m":15.760},{"d":51464,"m":15.745},{"d":51468,"m":15.773},{"d":51472,"m":15.757},{"d":51476,"m":15.766},{"d":51480,"m":15.739},{"d":51484,"m":15.810},{"d":51488,"m":15.755},{"d":51492,"m":15.769},{"d":51496,"m":15.748},{"d":51502,"m":15.762},{"d":51508,"m":15.741},{"d":51514,"m":15.771},{"d":51520,"m":15.752},{"d":51528,"m":15.765},{"d":51536,"m":15.745},{"d":51545,"m":15.760},{"d":51555,"m":15.738}
],
"I": [
{"d":50605,"m":15.700},{"d":50612,"m":15.682},{"d":50618,"m":15.731},{"d":50624,"m":15.655},{"d":50628,"m":15.676},{"d":50632,"m":15.695},{"d":50636,"m":15.660},{"d":50640,"m":15.710},{"d":50644,"m":15.686},{"d":50648,"m":15.664},{"d":50652,"m":15.702},{"d":50656,"m":15.666},{"d":50660,"m":15.720},{"d":50664,"m":15.690},{"d":50668,"m":15.678},{"d":50672,"m":15.712},{"d":50676,"m":15.697},{"d":50680,"m":15.685},{"d":50684,"m":15.727},{"d":50688,"m":15.705},{"d":50692,"m":15.673},{"d":50696,"m":15.693},{"d":50700,"m":15.716},{"d":50704,"m":15.681},{"d":50708,"m":15.699},{"d":50712,"m":15.674},{"d":50716,"m":15.708},{"d":50720,"m":15.689},{"d":50724,"m":15.722},{"d":50728,"m":15.664},{"d":50731,"m":15.695},{"d":50734,"m":15.679},{"d":50737,"m":15.703},{"d":50740,"m":15.686},{"d":50743,"m":15.713},{"d":50746,"m":15.692},{"d":50749,"m":15.676},{"d":50752,"m":15.700},{"d":50755,"m":15.683},{"d":50758,"m":15.719},{"d":50761,"m":15.695},{"d":50764,"m":15.672},{"d":50767,"m":15.707},{"d":50770,"m":15.688},{"d":50773,"m":15.733},{"d":50776,"m":15.698},{"d":50779,"m":15.680},{"d":50782,"m":15.714},{"d":50785,"m":15.691},{"d":50788,"m":15.677},{"d":50791,"m":15.703},{"d":50794,"m":15.686},{"d":50797,"m":15.725},{"d":50800,"m":15.696},{"d":50803,"m":15.674},{"d":50806,"m":15.709},{"d":50809,"m":15.689},{"d":50812,"m":15.717},{"d":50815,"m":15.700},{"d":50818,"m":15.730},{"d":50821,"m":15.682},{"d":50824,"m":15.694},{"d":50827,"m":15.678},{"d":50830,"m":15.711},{"d":50834,"m":15.688},{"d":50838,"m":15.703},{"d":50842,"m":15.721},{"d":50846,"m":15.674},{"d":50850,"m":15.696},{"d":50855,"m":15.679},{"d":50860,"m":15.708},{"d":50866,"m":15.688},{"d":50872,"m":15.699},
{"d":50944,"m":15.685},{"d":50950,"m":15.704},{"d":50956,"m":15.716},{"d":50962,"m":15.679},{"d":50968,"m":15.696},{"d":50974,"m":15.722},{"d":50980,"m":15.687},{"d":50986,"m":15.707},{"d":50992,"m":15.731},{"d":50998,"m":15.692},{"d":51004,"m":15.678},{"d":51010,"m":15.713},{"d":51016,"m":15.699},{"d":51022,"m":15.727},{"d":51028,"m":15.684},{"d":51034,"m":15.703},{"d":51040,"m":15.718},{"d":51046,"m":15.729},{"d":51052,"m":15.694},{"d":51058,"m":15.708},{"d":51064,"m":15.683},{"d":51070,"m":15.701},{"d":51076,"m":15.719},{"d":51082,"m":15.690},{"d":51088,"m":15.707},{"d":51094,"m":15.730},{"d":51100,"m":15.696},{"d":51106,"m":15.712},{"d":51112,"m":15.686},{"d":51118,"m":15.704},{"d":51124,"m":15.721},{"d":51130,"m":15.693},{"d":51136,"m":15.708},{"d":51142,"m":15.740},{"d":51148,"m":15.683},{"d":51154,"m":15.716},{"d":51160,"m":15.736},{"d":51166,"m":15.700},{"d":51172,"m":15.750},{"d":51178,"m":15.726},{"d":51184,"m":15.692},{"d":51190,"m":15.710},{"d":51198,"m":15.739},{"d":51206,"m":15.700},{"d":51214,"m":15.721},{"d":51222,"m":15.695},{"d":51232,"m":15.707},{"d":51240,"m":15.739},
{"d":51316,"m":15.705},{"d":51320,"m":15.727},{"d":51326,"m":15.683},{"d":51332,"m":15.711},{"d":51338,"m":15.676},{"d":51344,"m":15.696},{"d":51350,"m":15.719},{"d":51356,"m":15.688},{"d":51362,"m":15.702},{"d":51368,"m":15.715},{"d":51374,"m":15.727},{"d":51380,"m":15.692},{"d":51386,"m":15.706},{"d":51392,"m":15.680},{"d":51398,"m":15.699},{"d":51404,"m":15.718},{"d":51410,"m":15.685},{"d":51416,"m":15.723},{"d":51422,"m":15.707},{"d":51427,"m":15.670},{"d":51432,"m":15.694},{"d":51438,"m":15.712},{"d":51444,"m":15.678},{"d":51450,"m":15.700},{"d":51456,"m":15.722},{"d":51462,"m":15.688},{"d":51468,"m":15.705},{"d":51474,"m":15.715},{"d":51480,"m":15.697},{"d":51486,"m":15.681},{"d":51492,"m":15.709},{"d":51498,"m":15.698},{"d":51504,"m":15.720},{"d":51510,"m":15.691},{"d":51516,"m":15.704},{"d":51522,"m":15.679},{"d":51528,"m":15.713},{"d":51534,"m":15.696},{"d":51540,"m":15.738},{"d":51546,"m":15.702},{"d":51552,"m":15.685},{"d":51560,"m":15.711},{"d":51568,"m":15.699},{"d":51578,"m":15.717},{"d":51588,"m":15.693},{"d":51598,"m":15.708},{"d":51610,"m":15.697},
{"d":51700,"m":15.696},{"d":51708,"m":15.712},{"d":51716,"m":15.683},{"d":51722,"m":15.705},{"d":51728,"m":15.690},{"d":51734,"m":15.718},{"d":51740,"m":15.711},{"d":51743,"m":15.714},{"d":51746,"m":15.716},{"d":51749,"m":15.719},{"d":51752,"m":15.708},{"d":51755,"m":15.722},{"d":51758,"m":15.727},{"d":51761,"m":15.731},{"d":51764,"m":15.725},{"d":51767,"m":15.733},{"d":51769,"m":15.751},{"d":51771,"m":15.755},{"d":51774,"m":15.703},{"d":51778,"m":15.688},{"d":51784,"m":15.729},{"d":51790,"m":15.696},{"d":51796,"m":15.715},{"d":51802,"m":15.700},{"d":51808,"m":15.734},{"d":51814,"m":15.692},{"d":51820,"m":15.707},{"d":51828,"m":15.681},{"d":51836,"m":15.720},{"d":51844,"m":15.697},{"d":51852,"m":15.710},{"d":51855,"m":15.675},{"d":51862,"m":15.686},{"d":51870,"m":15.712},{"d":51880,"m":15.701},
{"d":52083,"m":15.746},{"d":52092,"m":15.690},{"d":52098,"m":15.672},{"d":52104,"m":15.703},{"d":52110,"m":15.683},{"d":52115,"m":15.716},{"d":52120,"m":15.696},{"d":52125,"m":15.724},{"d":52130,"m":15.674},{"d":52134,"m":15.709},{"d":52138,"m":15.688},{"d":52142,"m":15.733},{"d":52146,"m":15.700},{"d":52150,"m":15.714},{"d":52154,"m":15.657},{"d":52158,"m":15.692},{"d":52162,"m":15.706},{"d":52166,"m":15.720},{"d":52170,"m":15.681},{"d":52174,"m":15.698},{"d":52178,"m":15.711},{"d":52182,"m":15.665},{"d":52186,"m":15.703},{"d":52190,"m":15.716},{"d":52194,"m":15.687},{"d":52198,"m":15.699},{"d":52202,"m":15.722},{"d":52206,"m":15.693},{"d":52210,"m":15.708},{"d":52214,"m":15.677},{"d":52218,"m":15.713},{"d":52222,"m":15.700},{"d":52226,"m":15.689},{"d":52230,"m":15.718},{"d":52234,"m":15.705},{"d":52238,"m":15.684},{"d":52242,"m":15.710},{"d":52246,"m":15.697},{"d":52250,"m":15.670},{"d":52254,"m":15.716},{"d":52258,"m":15.702},{"d":52262,"m":15.726},{"d":52266,"m":15.688},{"d":52270,"m":15.708},{"d":52275,"m":15.694},{"d":52280,"m":15.713},{"d":52286,"m":15.681},{"d":52292,"m":15.704},{"d":52298,"m":15.690},{"d":52305,"m":15.711},{"d":52311,"m":15.699},
{"d":52440,"m":15.702},{"d":52446,"m":15.721},{"d":52452,"m":15.688},{"d":52456,"m":15.676},{"d":52460,"m":15.715},{"d":52464,"m":15.695},{"d":52468,"m":15.732},{"d":52472,"m":15.719},{"d":52476,"m":15.750},{"d":52480,"m":15.681},{"d":52484,"m":15.744},{"d":52488,"m":15.706},{"d":52492,"m":15.669},{"d":52496,"m":15.765},{"d":52500,"m":15.720},{"d":52504,"m":15.740},{"d":52508,"m":15.692},{"d":52512,"m":15.735},{"d":52516,"m":15.672},{"d":52520,"m":15.755},{"d":52524,"m":15.711},{"d":52528,"m":15.721},{"d":52532,"m":15.684},{"d":52536,"m":15.746},{"d":52540,"m":15.700},{"d":52544,"m":15.667},{"d":52548,"m":15.719},{"d":52552,"m":15.659},{"d":52555,"m":15.662},{"d":52558,"m":15.690},{"d":52562,"m":15.731},{"d":52566,"m":15.677},{"d":52570,"m":15.721},{"d":52574,"m":15.696},{"d":52578,"m":15.742},{"d":52582,"m":15.771},{"d":52586,"m":15.708},{"d":52590,"m":15.720},{"d":52594,"m":15.671},{"d":52598,"m":15.750},{"d":52602,"m":15.690},{"d":52606,"m":15.729},{"d":52610,"m":15.702},{"d":52614,"m":15.719},{"d":52618,"m":15.757},{"d":52622,"m":15.683},{"d":52626,"m":15.713},{"d":52630,"m":15.737},{"d":52634,"m":15.674},{"d":52638,"m":15.698},{"d":52642,"m":15.722},{"d":52646,"m":15.745},{"d":52650,"m":15.686},{"d":52653,"m":15.653},{"d":52658,"m":15.712},{"d":52664,"m":15.692},{"d":52670,"m":15.735},{"d":52676,"m":15.670},{"d":52682,"m":15.705},{"d":52688,"m":15.727},{"d":52694,"m":15.696},
{"d":52775,"m":15.748},{"d":52780,"m":15.690},{"d":52786,"m":15.712},{"d":52790,"m":15.677},{"d":52794,"m":15.701},{"d":52798,"m":15.724},{"d":52802,"m":15.686},{"d":52806,"m":15.708},{"d":52810,"m":15.693},{"d":52814,"m":15.719},{"d":52818,"m":15.681},{"d":52822,"m":15.735},{"d":52826,"m":15.697},{"d":52830,"m":15.712},{"d":52834,"m":15.679},{"d":52838,"m":15.703},{"d":52842,"m":15.726},{"d":52846,"m":15.690},{"d":52850,"m":15.716},{"d":52854,"m":15.738},{"d":52858,"m":15.684},{"d":52862,"m":15.708},{"d":52866,"m":15.695},{"d":52870,"m":15.721},{"d":52874,"m":15.680},{"d":52878,"m":15.713},{"d":52882,"m":15.698},{"d":52886,"m":15.733},{"d":52890,"m":15.687},{"d":52894,"m":15.709},{"d":52898,"m":15.722},{"d":52902,"m":15.677},{"d":52906,"m":15.700},{"d":52910,"m":15.740},{"d":52914,"m":15.715},{"d":52918,"m":15.689},{"d":52922,"m":15.704},{"d":52926,"m":15.728},{"d":52930,"m":15.694},{"d":52934,"m":15.711},{"d":52938,"m":15.766},{"d":52940,"m":15.775},{"d":52944,"m":15.684},{"d":52948,"m":15.718},{"d":52952,"m":15.700},{"d":52956,"m":15.731},{"d":52960,"m":15.692},{"d":52964,"m":15.746},{"d":52968,"m":15.707},{"d":52972,"m":15.681},{"d":52976,"m":15.724},{"d":52980,"m":15.697},{"d":52985,"m":15.713},{"d":52990,"m":15.742},{"d":52996,"m":15.689},{"d":53002,"m":15.716},{"d":53009,"m":15.762},{"d":53016,"m":15.699},{"d":53024,"m":15.721},{"d":53032,"m":15.705}
]
},
"layer": [
{"data": {"name": "V"}, "mark": {"type": "square", "size": 9, "color": "#111", "opacity": 1},
 "encoding": {
  "x": {"field": "d", "type": "quantitative", "scale": {"domain": [49000, 53200], "nice": false, "zero": false},
        "axis": {"orient": "bottom", "ticks": false, "domain": false, "values": [49000, 50000, 51000, 52000, 53000], "labelExpr": "format(datum.value/10000, '.2f') + '×10⁴'", "labelFontSize": 12, "labelPadding": 5, "title": "MJD", "titleFontSize": 10, "titlePadding": 6}},
  "y": {"field": "m", "type": "quantitative", "scale": {"domain": [15.81, 15.97], "range": [0, 198], "nice": false, "zero": false},
        "axis": {"orient": "left", "ticks": false, "values": [15.82, 15.84, 15.86, 15.88, 15.90, 15.92, 15.94, 15.96], "format": ".2f", "labelPadding": 6, "title": "MACHO V", "titlePadding": 9}}}},
{"data": {"name": "R"}, "mark": {"type": "square", "size": 9, "color": "#111", "opacity": 1},
 "encoding": {
  "x": {"field": "d", "type": "quantitative", "scale": {"domain": [49000, 53200], "nice": false, "zero": false},
        "axis": {"orient": "top", "offset": -596, "values": [49000, 50000, 51000, 52000, 53000], "tickSize": 6, "labels": false, "title": null}},
  "y": {"field": "m", "type": "quantitative", "scale": {"domain": [15.69, 15.83], "range": [198, 396], "nice": false, "zero": false},
        "axis": {"orient": "left", "ticks": false, "values": [15.70, 15.72, 15.74, 15.76, 15.78, 15.80, 15.82], "format": ".2f", "labelPadding": 6, "title": "MACHO R", "titlePadding": 9}}}},
{"data": {"name": "I"}, "mark": {"type": "square", "size": 9, "color": "#111", "opacity": 1},
 "encoding": {
  "x": {"field": "d", "type": "quantitative", "scale": {"domain": [49000, 53200], "nice": false, "zero": false},
        "axis": {"orient": "top", "offset": -596, "values": [49000,49100,49200,49300,49400,49500,49600,49700,49800,49900,50000,50100,50200,50300,50400,50500,50600,50700,50800,50900,51000,51100,51200,51300,51400,51500,51600,51700,51800,51900,52000,52100,52200,52300,52400,52500,52600,52700,52800,52900,53000,53100,53200], "tickSize": 3, "labels": false, "title": null}},
  "y": {"field": "m", "type": "quantitative", "scale": {"domain": [15.64, 15.78], "range": [396, 596], "nice": false, "zero": false},
        "axis": {"orient": "left", "ticks": false, "values": [15.66, 15.68, 15.70, 15.72, 15.74, 15.76], "format": ".2f", "labelPadding": 6, "title": "OGLE I", "titlePadding": 9}}}},
{"data": {"name": "V"}, "transform": [{"filter": "false"}], "mark": {"type": "point", "opacity": 0},
 "encoding": {
  "x": {"field": "d", "type": "quantitative", "scale": {"domain": [49000, 53200], "nice": false, "zero": false},
        "axis": {"orient": "top", "offset": -396, "values": [49000, 50000, 51000, 52000, 53000], "tickSize": 6, "labels": false, "title": null}},
  "y": {"field": "m", "type": "quantitative", "scale": {"domain": [15.81, 15.97], "range": [0, 198], "nice": false, "zero": false},
        "axis": {"orient": "right", "offset": -491, "values": [15.82, 15.84, 15.86, 15.88, 15.90, 15.92, 15.94, 15.96], "tickSize": 6, "labels": false, "title": null}}}},
{"data": {"name": "V"}, "transform": [{"filter": "false"}], "mark": {"type": "point", "opacity": 0},
 "encoding": {
  "x": {"field": "d", "type": "quantitative", "scale": {"domain": [49000, 53200], "nice": false, "zero": false},
        "axis": {"orient": "top", "offset": -396, "values": [49000,49100,49200,49300,49400,49500,49600,49700,49800,49900,50000,50100,50200,50300,50400,50500,50600,50700,50800,50900,51000,51100,51200,51300,51400,51500,51600,51700,51800,51900,52000,52100,52200,52300,52400,52500,52600,52700,52800,52900,53000,53100,53200], "tickSize": 3, "labels": false, "title": null}},
  "y": {"field": "m", "type": "quantitative", "scale": {"domain": [15.81, 15.97], "range": [0, 198], "nice": false, "zero": false},
        "axis": {"orient": "right", "offset": -491, "values": [15.81,15.815,15.82,15.825,15.83,15.835,15.84,15.845,15.85,15.855,15.86,15.865,15.87,15.875,15.88,15.885,15.89,15.895,15.9,15.905,15.91,15.915,15.92,15.925,15.93,15.935,15.94,15.945,15.95,15.955,15.96,15.965,15.97], "tickSize": 3, "labels": false, "title": null}}}},
{"data": {"name": "V"}, "transform": [{"filter": "false"}], "mark": {"type": "point", "opacity": 0},
 "encoding": {
  "x": {"field": "d", "type": "quantitative", "scale": {"domain": [49000, 53200], "nice": false, "zero": false},
        "axis": {"orient": "bottom", "offset": -200, "domain": true, "values": [49000, 50000, 51000, 52000, 53000], "tickSize": 6, "labels": false, "title": null}},
  "y": {"field": "m", "type": "quantitative", "scale": {"domain": [15.81, 15.97], "range": [0, 198], "nice": false, "zero": false},
        "axis": {"orient": "left", "offset": -491, "values": [15.82, 15.84, 15.86, 15.88, 15.90, 15.92, 15.94, 15.96], "tickSize": 6, "labels": false, "title": null}}}},
{"data": {"name": "V"}, "transform": [{"filter": "false"}], "mark": {"type": "point", "opacity": 0},
 "encoding": {
  "x": {"field": "d", "type": "quantitative", "scale": {"domain": [49000, 53200], "nice": false, "zero": false},
        "axis": {"orient": "bottom", "offset": -200, "values": [49000,49100,49200,49300,49400,49500,49600,49700,49800,49900,50000,50100,50200,50300,50400,50500,50600,50700,50800,50900,51000,51100,51200,51300,51400,51500,51600,51700,51800,51900,52000,52100,52200,52300,52400,52500,52600,52700,52800,52900,53000,53100,53200], "tickSize": 3, "labels": false, "title": null}},
  "y": {"field": "m", "type": "quantitative", "scale": {"domain": [15.81, 15.97], "range": [0, 198], "nice": false, "zero": false},
        "axis": {"orient": "left", "offset": -491, "values": [15.81,15.815,15.82,15.825,15.83,15.835,15.84,15.845,15.85,15.855,15.86,15.865,15.87,15.875,15.88,15.885,15.89,15.895,15.9,15.905,15.91,15.915,15.92,15.925,15.93,15.935,15.94,15.945,15.95,15.955,15.96,15.965,15.97], "tickSize": 3, "labels": false, "title": null}}}},
{"data": {"name": "R"}, "transform": [{"filter": "false"}], "mark": {"type": "point", "opacity": 0},
 "encoding": {
  "x": {"field": "d", "type": "quantitative", "scale": {"domain": [49000, 53200], "nice": false, "zero": false},
        "axis": {"orient": "top", "offset": -198, "values": [49000, 50000, 51000, 52000, 53000], "tickSize": 6, "labels": false, "title": null}},
  "y": {"field": "m", "type": "quantitative", "scale": {"domain": [15.69, 15.83], "range": [198, 396], "nice": false, "zero": false},
        "axis": {"orient": "right", "offset": -491, "values": [15.70, 15.72, 15.74, 15.76, 15.78, 15.80, 15.82], "tickSize": 6, "labels": false, "title": null}}}},
{"data": {"name": "R"}, "transform": [{"filter": "false"}], "mark": {"type": "point", "opacity": 0},
 "encoding": {
  "x": {"field": "d", "type": "quantitative", "scale": {"domain": [49000, 53200], "nice": false, "zero": false},
        "axis": {"orient": "top", "offset": -198, "values": [49000,49100,49200,49300,49400,49500,49600,49700,49800,49900,50000,50100,50200,50300,50400,50500,50600,50700,50800,50900,51000,51100,51200,51300,51400,51500,51600,51700,51800,51900,52000,52100,52200,52300,52400,52500,52600,52700,52800,52900,53000,53100,53200], "tickSize": 3, "labels": false, "title": null}},
  "y": {"field": "m", "type": "quantitative", "scale": {"domain": [15.69, 15.83], "range": [198, 396], "nice": false, "zero": false},
        "axis": {"orient": "right", "offset": -491, "values": [15.69,15.695,15.7,15.705,15.71,15.715,15.72,15.725,15.73,15.735,15.74,15.745,15.75,15.755,15.76,15.765,15.77,15.775,15.78,15.785,15.79,15.795,15.8,15.805,15.81,15.815,15.82,15.825,15.83], "tickSize": 3, "labels": false, "title": null}}}},
{"data": {"name": "R"}, "transform": [{"filter": "false"}], "mark": {"type": "point", "opacity": 0},
 "encoding": {
  "x": {"field": "d", "type": "quantitative", "scale": {"domain": [49000, 53200], "nice": false, "zero": false},
        "axis": {"orient": "bottom", "offset": -398, "domain": true, "values": [49000, 50000, 51000, 52000, 53000], "tickSize": 6, "labels": false, "title": null}},
  "y": {"field": "m", "type": "quantitative", "scale": {"domain": [15.69, 15.83], "range": [198, 396], "nice": false, "zero": false},
        "axis": {"orient": "left", "offset": -491, "values": [15.70, 15.72, 15.74, 15.76, 15.78, 15.80, 15.82], "tickSize": 6, "labels": false, "title": null}}}},
{"data": {"name": "R"}, "transform": [{"filter": "false"}], "mark": {"type": "point", "opacity": 0},
 "encoding": {
  "x": {"field": "d", "type": "quantitative", "scale": {"domain": [49000, 53200], "nice": false, "zero": false},
        "axis": {"orient": "bottom", "offset": -398, "values": [49000,49100,49200,49300,49400,49500,49600,49700,49800,49900,50000,50100,50200,50300,50400,50500,50600,50700,50800,50900,51000,51100,51200,51300,51400,51500,51600,51700,51800,51900,52000,52100,52200,52300,52400,52500,52600,52700,52800,52900,53000,53100,53200], "tickSize": 3, "labels": false, "title": null}},
  "y": {"field": "m", "type": "quantitative", "scale": {"domain": [15.69, 15.83], "range": [198, 396], "nice": false, "zero": false},
        "axis": {"orient": "left", "offset": -491, "values": [15.69,15.695,15.7,15.705,15.71,15.715,15.72,15.725,15.73,15.735,15.74,15.745,15.75,15.755,15.76,15.765,15.77,15.775,15.78,15.785,15.79,15.795,15.8,15.805,15.81,15.815,15.82,15.825,15.83], "tickSize": 3, "labels": false, "title": null}}}},
{"data": {"name": "I"}, "transform": [{"filter": "false"}], "mark": {"type": "point", "opacity": 0},
 "encoding": {
  "x": {"field": "d", "type": "quantitative", "scale": {"domain": [49000, 53200], "nice": false, "zero": false},
        "axis": {"orient": "bottom", "offset": -596, "values": [49000, 50000, 51000, 52000, 53000], "tickSize": 6, "labels": false, "title": null}},
  "y": {"field": "m", "type": "quantitative", "scale": {"domain": [15.64, 15.78], "range": [396, 596], "nice": false, "zero": false},
        "axis": {"orient": "right", "offset": -491, "values": [15.66, 15.68, 15.70, 15.72, 15.74, 15.76], "tickSize": 6, "labels": false, "title": null}}}},
{"data": {"name": "I"}, "transform": [{"filter": "false"}], "mark": {"type": "point", "opacity": 0},
 "encoding": {
  "x": {"field": "d", "type": "quantitative", "scale": {"domain": [49000, 53200], "nice": false, "zero": false},
        "axis": {"orient": "bottom", "offset": -596, "values": [49000,49100,49200,49300,49400,49500,49600,49700,49800,49900,50000,50100,50200,50300,50400,50500,50600,50700,50800,50900,51000,51100,51200,51300,51400,51500,51600,51700,51800,51900,52000,52100,52200,52300,52400,52500,52600,52700,52800,52900,53000,53100,53200], "tickSize": 3, "labels": false, "title": null}},
  "y": {"field": "m", "type": "quantitative", "scale": {"domain": [15.64, 15.78], "range": [396, 596], "nice": false, "zero": false},
        "axis": {"orient": "right", "offset": -491, "values": [15.64,15.645,15.65,15.655,15.66,15.665,15.67,15.675,15.68,15.685,15.69,15.695,15.7,15.705,15.71,15.715,15.72,15.725,15.73,15.735,15.74,15.745,15.75,15.755,15.76,15.765,15.77,15.775,15.78], "tickSize": 3, "labels": false, "title": null}}}},
{"data": {"name": "I"}, "transform": [{"filter": "false"}], "mark": {"type": "point", "opacity": 0},
 "encoding": {
  "x": {"field": "d", "type": "quantitative", "scale": {"domain": [49000, 53200], "nice": false, "zero": false}, "axis": null},
  "y": {"field": "m", "type": "quantitative", "scale": {"domain": [15.64, 15.78], "range": [396, 596], "nice": false, "zero": false},
        "axis": {"orient": "left", "offset": -491, "values": [15.66, 15.68, 15.70, 15.72, 15.74, 15.76], "tickSize": 6, "labels": false, "title": null}}}},
{"data": {"name": "I"}, "transform": [{"filter": "false"}], "mark": {"type": "point", "opacity": 0},
 "encoding": {
  "x": {"field": "d", "type": "quantitative", "scale": {"domain": [49000, 53200], "nice": false, "zero": false}, "axis": null},
  "y": {"field": "m", "type": "quantitative", "scale": {"domain": [15.64, 15.78], "range": [396, 596], "nice": false, "zero": false},
        "axis": {"orient": "left", "offset": -491, "values": [15.64,15.645,15.65,15.655,15.66,15.665,15.67,15.675,15.68,15.685,15.69,15.695,15.7,15.705,15.71,15.715,15.72,15.725,15.73,15.735,15.74,15.745,15.75,15.755,15.76,15.765,15.77,15.775,15.78], "tickSize": 3, "labels": false, "title": null}}}}
],
"resolve": {"scale": {"y": "independent"}, "axis": {"x": "independent", "y": "independent"}}
}
